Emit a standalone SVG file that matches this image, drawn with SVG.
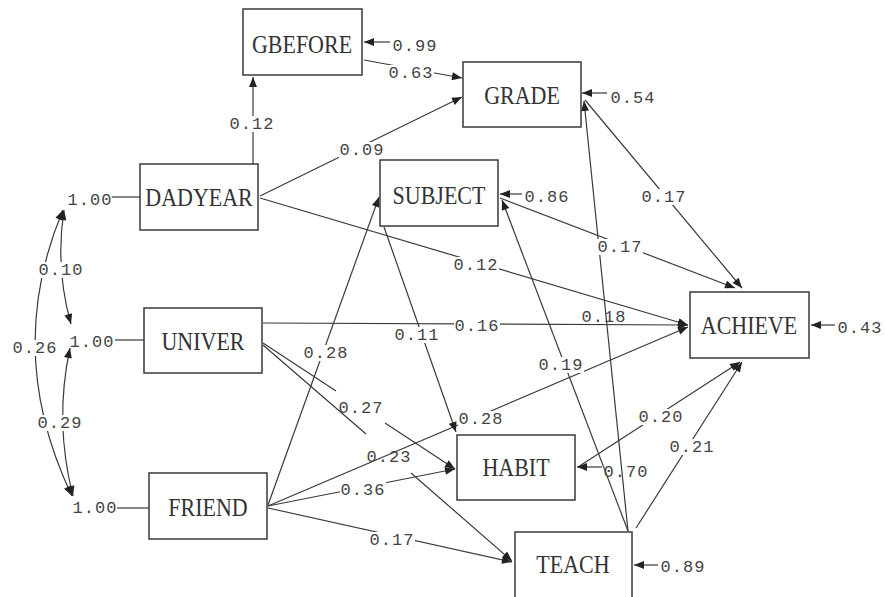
<svg xmlns="http://www.w3.org/2000/svg" width="885" height="597" viewBox="0 0 885 597">
<style>
.box{fill:#fff;stroke:#3a3a3a;stroke-width:1.5}
.nt{font-family:"Liberation Serif","Times New Roman",serif;font-size:22px;fill:#333;text-anchor:middle}
.e{fill:none;stroke:#3a3a3a;stroke-width:1.2}
.a{marker-end:url(#ah)}
.d{marker-start:url(#ah);marker-end:url(#ah)}
.l{font-family:"Liberation Mono","Courier New",monospace;font-size:17px;letter-spacing:1px;fill:#444;text-anchor:middle}
.bg{fill:#fff}
</style>
<defs>
<marker id="ah" viewBox="0 0 10 8" refX="10" refY="4" markerWidth="11" markerHeight="8" markerUnits="userSpaceOnUse" orient="auto-start-reverse">
<path d="M0,0 L10,4 L0,8 z" fill="#222"/>
</marker>
<rect id="lb" class="bg" x="-23" y="-13" width="46" height="16"/>
</defs>
<g id="connectors">
<path class="e" d="M112,197 L140,197"/>
<path class="e" d="M115,340 L144,340"/>
<path class="e" d="M117,508 L149,508"/>
<path class="e d" d="M64,210 Q55,268 71,324"/>
<path class="e d" d="M63,210 Q3,352 72,496"/>
<path class="e d" d="M70,348 Q54,422 73,496"/>
<path class="e a" d="M253,164 L253,77"/>
<path class="e a" d="M364,60 L462,78"/>
<path class="e a" d="M390,42 L364,42"/>
<path class="e a" d="M260,196 L462,97"/>
<path class="e a" d="M260,198 L688,325"/>
<path class="e a" d="M263,323 L688,325"/>
<path class="e a" d="M268,506 L688,327"/>
<path class="e a" d="M268,505 L379,197"/>
<path class="e a" d="M384,227 L456,432"/>
<path class="e a" d="M263,343 L336,391 M385,423 L455,469"/>
<path class="e a" d="M263,345 L366,434 M411,473 L512,561"/>
<path class="e a" d="M268,506 L455,469"/>
<path class="e a" d="M268,508 L512,562"/>
<path class="e a" d="M522,194 L500,194"/>
<path class="e a" d="M500,198 L735,288"/>
<path class="e a" d="M585,100 L742,288"/>
<path class="e a" d="M607,93 L582,93"/>
<path class="e a" d="M628,531 L584,101"/>
<path class="e a" d="M628,531 L502,200"/>
<path class="e a" d="M636,528 L742,362"/>
<path class="e a" d="M578,467 L740,362"/>
<path class="e a" d="M602,467 L577,467"/>
<path class="e a" d="M658,565 L634,565"/>
<path class="e a" d="M835,325 L811,325"/>
<g id="labels">
<use href="#lb" x="61" y="275"/><use href="#lb" x="35" y="353"/><use href="#lb" x="60" y="428"/>
<use href="#lb" x="252" y="129"/><use href="#lb" x="411" y="78"/><use href="#lb" x="362" y="155"/>
<use href="#lb" x="476" y="270"/><use href="#lb" x="477" y="331"/><use href="#lb" x="481" y="424"/>
<use href="#lb" x="326" y="358"/><use href="#lb" x="417" y="340"/>
<use href="#lb" x="363" y="495"/><use href="#lb" x="392" y="545"/>
<use href="#lb" x="620" y="252"/><use href="#lb" x="664" y="202"/><use href="#lb" x="561" y="370"/>
<use href="#lb" x="692" y="452"/><use href="#lb" x="661" y="422"/>
<text class="l" x="90" y="205">1.00</text>
<text class="l" x="92" y="347">1.00</text>
<text class="l" x="95" y="513">1.00</text>
<text class="l" x="61" y="275">0.10</text>
<text class="l" x="35" y="353">0.26</text>
<text class="l" x="60" y="428">0.29</text>
<text class="l" x="252" y="129">0.12</text>
<text class="l" x="411" y="78">0.63</text>
<text class="l" x="415" y="51">0.99</text>
<text class="l" x="362" y="155">0.09</text>
<text class="l" x="476" y="270">0.12</text>
<text class="l" x="477" y="331">0.16</text>
<text class="l" x="481" y="424">0.28</text>
<text class="l" x="326" y="358">0.28</text>
<text class="l" x="417" y="340">0.11</text>
<text class="l" x="361" y="413">0.27</text>
<text class="l" x="389" y="462">0.23</text>
<text class="l" x="363" y="495">0.36</text>
<text class="l" x="392" y="545">0.17</text>
<text class="l" x="547" y="202">0.86</text>
<text class="l" x="620" y="252">0.17</text>
<text class="l" x="664" y="202">0.17</text>
<text class="l" x="633" y="103">0.54</text>
<text class="l" x="604" y="322">0.18</text>
<text class="l" x="561" y="370">0.19</text>
<text class="l" x="692" y="452">0.21</text>
<text class="l" x="661" y="422">0.20</text>
<text class="l" x="626" y="477">0.70</text>
<text class="l" x="683" y="572">0.89</text>
<text class="l" x="860" y="333">0.43</text>
</g>
</g>
<g id="GBEFORE"><rect class="box" x="243" y="9" width="119" height="66"/><text class="nt" transform="translate(302,53) scale(1,1.15)">GBEFORE</text></g>
<g id="GRADE"><rect class="box" x="463" y="62" width="118" height="65"/><text class="nt" transform="translate(522,104) scale(1,1.15)">GRADE</text></g>
<g id="DADYEAR"><rect class="box" x="140" y="164" width="118" height="66"/><text class="nt" transform="translate(199,206) scale(1,1.15)">DADYEAR</text></g>
<g id="SUBJECT"><rect class="box" x="380" y="160" width="118" height="66"/><text class="nt" transform="translate(439,204) scale(1,1.15)">SUBJECT</text></g>
<g id="UNIVER"><rect class="box" x="144" y="308" width="118" height="65"/><text class="nt" transform="translate(203,350) scale(1,1.15)">UNIVER</text></g>
<g id="ACHIEVE"><rect class="box" x="690" y="292" width="119" height="66"/><text class="nt" transform="translate(749,334) scale(1,1.15)">ACHIEVE</text></g>
<g id="HABIT"><rect class="box" x="457" y="435" width="118" height="65"/><text class="nt" transform="translate(516,476) scale(1,1.15)">HABIT</text></g>
<g id="FRIEND"><rect class="box" x="149" y="473" width="118" height="66"/><text class="nt" transform="translate(208,516) scale(1,1.15)">FRIEND</text></g>
<g id="TEACH"><rect class="box" x="515" y="532" width="117" height="66"/><text class="nt" transform="translate(573,573) scale(1,1.15)">TEACH</text></g>
</svg>
